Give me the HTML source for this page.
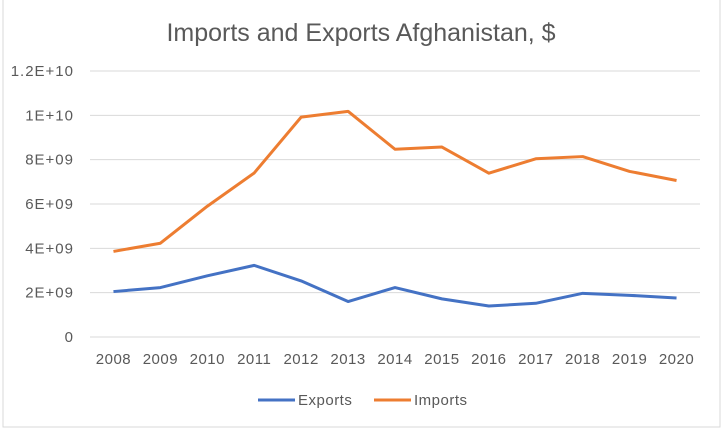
<!DOCTYPE html>
<html><head><meta charset="utf-8"><style>
body{margin:0;background:#fff;}
svg{display:block;font-family:"Liberation Sans",sans-serif;}
</style></head><body>
<svg id="chart" width="722" height="430">
<rect x="3" y="-2" width="717" height="429" fill="#fff" stroke="#d9d9d9"/>
<text x="361" y="41" text-anchor="middle" font-size="25" fill="#595959">Imports and Exports Afghanistan, $</text>
<g id="grid"></g><g id="ylab"></g><g id="xlab"></g><g id="series"></g>
<g>
<line x1="258" y1="400" x2="295" y2="400" stroke="#4472c4" stroke-width="3"/>
<text x="298" y="405" font-size="15" letter-spacing="0.5" fill="#595959">Exports</text>
<line x1="374" y1="400" x2="411" y2="400" stroke="#ed7d31" stroke-width="3"/>
<text x="414" y="405" font-size="15" letter-spacing="0.5" fill="#595959">Imports</text>
</g>
</svg>
<script>
const years=["2008","2009","2010","2011","2012","2013","2014","2015","2016","2017","2018","2019","2020"];
const exportsVals=[2.05e9,2.23e9,2.76e9,3.23e9,2.53e9,1.6e9,2.23e9,1.72e9,1.4e9,1.52e9,1.97e9,1.88e9,1.76e9];
const importsVals=[3.86e9,4.23e9,5.9e9,7.4e9,9.92e9,10.18e9,8.47e9,8.57e9,7.39e9,8.04e9,8.14e9,7.47e9,7.06e9];
const yTicks=[0,2e9,4e9,6e9,8e9,1e10,1.2e10];
const yTickLabels=["0","2E+09","4E+09","6E+09","8E+09","1E+10","1.2E+10"];
const NS="http://www.w3.org/2000/svg";
const L=90,R=700,T=71,B=337,yMax=1.2e10;
const step=(R-L)/years.length;
const x=i=>L+step*(i+0.5);
const y=v=>B-(v/yMax)*(B-T);
function mk(tag,attrs,parent){const e=document.createElementNS(NS,tag);for(const k in attrs)e.setAttribute(k,attrs[k]);parent.appendChild(e);return e;}
const grid=document.getElementById('grid'),yl=document.getElementById('ylab'),xl=document.getElementById('xlab'),ser=document.getElementById('series');
yTicks.forEach((t,i)=>{
 const g=mk('line',{x1:L,x2:R,y1:y(t),y2:y(t),stroke:'#d9d9d9','stroke-width':1},grid);
 
 
 const tx=mk('text',{x:74,y:y(t)+5,'text-anchor':'end','font-size':15,'letter-spacing':1,fill:'#595959'},yl);
 tx.textContent=yTickLabels[i];
 
 
});
years.forEach((yr,i)=>{
 const tx=mk('text',{x:x(i),y:364,'text-anchor':'middle','font-size':15,'letter-spacing':0.5,fill:'#595959'},xl);
 tx.textContent=yr;
 
 
});
function line(vals,color,name){
 const p=mk('polyline',{points:vals.map((v,i)=>x(i)+','+y(v)).join(' '),fill:'none',stroke:color,'stroke-width':3,'stroke-linejoin':'round'},ser);
 
 
}
line(exportsVals,'#4472c4','exports-line');
line(importsVals,'#ed7d31','imports-line');
</script>
</body></html>
